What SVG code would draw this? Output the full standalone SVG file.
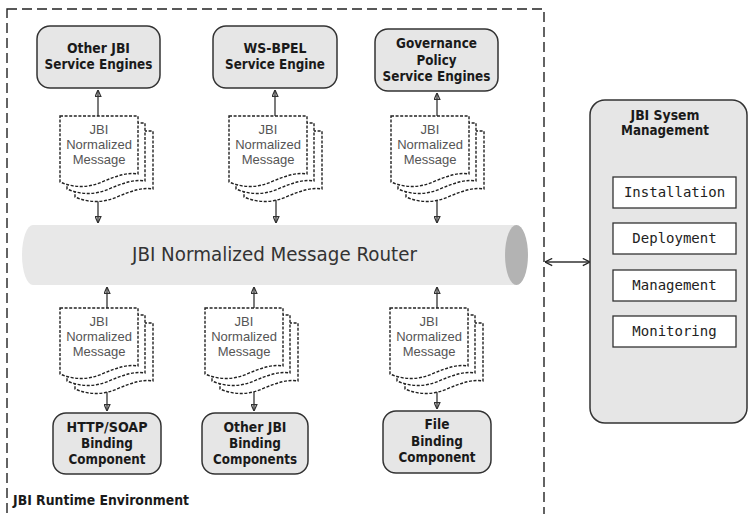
<svg xmlns="http://www.w3.org/2000/svg" xmlns:xlink="http://www.w3.org/1999/xlink" width="749" height="514" viewBox="0 0 749 514">
  <style>
    .frame { fill: none; stroke: #222; stroke-width: 1.4; stroke-dasharray: 10 5; }
    .box { fill: #e6e6e6; stroke: #333; stroke-width: 1.5; }
    .lbl { font-family: "DejaVu Sans", Verdana, sans-serif; font-weight: bold; font-size: 14px; fill: #1a1a1a; text-anchor: middle; }
    .msg { font-family: "Liberation Sans", Arial, sans-serif; font-size: 13px; fill: #555; text-anchor: middle; }
    .page { fill: #fff; stroke: #222; stroke-width: 1.4; stroke-dasharray: 3 1.6; }
    .conn { stroke: #333; stroke-width: 1.3; fill: none; }
    .task { fill: #fff; stroke: #333; stroke-width: 1.3; }
    .mono { font-family: "DejaVu Sans Mono", "Liberation Mono", monospace; font-size: 14px; fill: #222; text-anchor: middle; }
    .router-text { font-family: "DejaVu Sans", Verdana, sans-serif; font-size: 20px; fill: #333; text-anchor: middle; }
  </style>
  <defs>
    <marker id="tri" viewBox="0 0 10 10" refX="10" refY="5" markerWidth="7" markerHeight="7" markerUnits="userSpaceOnUse" orient="auto">
      <path d="M1,1 L10,5 L1,9 Z" fill="none" stroke="#333" stroke-width="1.8"/>
    </marker>
    <marker id="chev" viewBox="0 0 10 10" refX="10" refY="5" markerWidth="9" markerHeight="9" markerUnits="userSpaceOnUse" orient="auto-start-reverse">
      <path d="M2,1 L10,5 L2,9" fill="none" stroke="#222" stroke-width="1.4"/>
    </marker>
    <!-- one message sheet, front page top-left at 0,0 -->
    <path id="sheet" class="page" d="M0,0 H78 V58 C68,56 56,60 42,66 C28,72 14,72 0,66 Z"/>
    <!-- stack of three sheets -->
    <g id="msgStack">
      <use xlink:href="#sheet" x="15" y="15"/>
      <use xlink:href="#sheet" x="7" y="7"/>
      <use xlink:href="#sheet"/>
    </g>
  </defs>

  <rect width="749" height="514" fill="#fff"/>

  <!-- runtime environment boundary -->
  <g id="runtime-env">
    <rect class="frame" x="7" y="9" width="537" height="540"/>
    <text class="lbl" x="13" y="505" style="text-anchor:start" textLength="176" lengthAdjust="spacingAndGlyphs">JBI Runtime Environment</text>
  </g>

  <g id="connectors">
    <!-- stacks up to service engines -->
    <line class="conn" x1="98" y1="116" x2="98" y2="90" marker-end="url(#tri)"/>
    <line class="conn" x1="275" y1="116" x2="275" y2="90" marker-end="url(#tri)"/>
    <line class="conn" x1="437" y1="116" x2="437" y2="93" marker-end="url(#tri)"/>
    <!-- stacks down to router -->
    <line class="conn" x1="98" y1="196" x2="98" y2="223" marker-end="url(#tri)"/>
    <line class="conn" x1="276" y1="196" x2="276" y2="223" marker-end="url(#tri)"/>
    <line class="conn" x1="437" y1="196" x2="437" y2="223" marker-end="url(#tri)"/>
    <!-- stacks up to router -->
    <line class="conn" x1="107" y1="312" x2="107" y2="287" marker-end="url(#tri)"/>
    <line class="conn" x1="254" y1="312" x2="254" y2="287" marker-end="url(#tri)"/>
    <line class="conn" x1="437" y1="312" x2="437" y2="287" marker-end="url(#tri)"/>
    <!-- stacks down to binding components -->
    <line class="conn" x1="107" y1="385" x2="107" y2="411" marker-end="url(#tri)"/>
    <line class="conn" x1="254" y1="385" x2="254" y2="411" marker-end="url(#tri)"/>
    <line class="conn" x1="437" y1="385" x2="437" y2="409" marker-end="url(#tri)"/>
    <!-- runtime to system management -->
    <line class="conn" x1="545" y1="262" x2="590" y2="262" stroke="#222" marker-start="url(#chev)" marker-end="url(#chev)"/>
  </g>

  <!-- service engines -->
  <g id="other-se">
    <rect class="box" x="37" y="26" width="123" height="62" rx="13"/>
    <text class="lbl" x="98.5" y="53" textLength="63" lengthAdjust="spacingAndGlyphs">Other JBI</text>
    <text class="lbl" x="98.5" y="69" textLength="108" lengthAdjust="spacingAndGlyphs">Service Engines</text>
  </g>
  <g id="wsbpel-se">
    <rect class="box" x="213" y="26" width="124" height="62" rx="13"/>
    <text class="lbl" x="275" y="53" textLength="63" lengthAdjust="spacingAndGlyphs">WS-BPEL</text>
    <text class="lbl" x="275" y="69" textLength="100" lengthAdjust="spacingAndGlyphs">Service Engine</text>
  </g>
  <g id="governance-se">
    <rect class="box" x="375" y="29" width="123" height="62" rx="13"/>
    <text class="lbl" x="436.5" y="48" textLength="81" lengthAdjust="spacingAndGlyphs">Governance</text>
    <text class="lbl" x="436.5" y="65" textLength="40" lengthAdjust="spacingAndGlyphs">Policy</text>
    <text class="lbl" x="436.5" y="81" textLength="108" lengthAdjust="spacingAndGlyphs">Service Engines</text>
  </g>

  <!-- normalized message stacks, engine side -->
  <g id="msg-se-1">
    <use xlink:href="#msgStack" x="60" y="116"/>
    <text class="msg" x="99" y="134">JBI</text>
    <text class="msg" x="99" y="149">Normalized</text>
    <text class="msg" x="99" y="164">Message</text>
  </g>
  <g id="msg-se-2">
    <use xlink:href="#msgStack" x="229" y="116"/>
    <text class="msg" x="268" y="134">JBI</text>
    <text class="msg" x="268" y="149">Normalized</text>
    <text class="msg" x="268" y="164">Message</text>
  </g>
  <g id="msg-se-3">
    <use xlink:href="#msgStack" x="391" y="116"/>
    <text class="msg" x="430" y="134">JBI</text>
    <text class="msg" x="430" y="149">Normalized</text>
    <text class="msg" x="430" y="164">Message</text>
  </g>

  <!-- message router pipe -->
  <g id="router">
    <path d="M33,225 H516.5 V285 H33 A11,30 0 0 1 33,225 Z" fill="#e8e8e8"/>
    <ellipse cx="516.5" cy="255" rx="11.5" ry="30" fill="#b3b3b3"/>
    <text class="router-text" x="274.5" y="261" textLength="285" lengthAdjust="spacingAndGlyphs">JBI Normalized Message Router</text>
  </g>

  <!-- normalized message stacks, binding side -->
  <g id="msg-bc-1">
    <use xlink:href="#msgStack" x="60" y="308"/>
    <text class="msg" x="99" y="326">JBI</text>
    <text class="msg" x="99" y="341">Normalized</text>
    <text class="msg" x="99" y="356">Message</text>
  </g>
  <g id="msg-bc-2">
    <use xlink:href="#msgStack" x="205" y="308"/>
    <text class="msg" x="244" y="326">JBI</text>
    <text class="msg" x="244" y="341">Normalized</text>
    <text class="msg" x="244" y="356">Message</text>
  </g>
  <g id="msg-bc-3">
    <use xlink:href="#msgStack" x="390" y="308"/>
    <text class="msg" x="429" y="326">JBI</text>
    <text class="msg" x="429" y="341">Normalized</text>
    <text class="msg" x="429" y="356">Message</text>
  </g>

  <!-- binding components -->
  <g id="http-bc">
    <rect class="box" x="53" y="413" width="108" height="61" rx="13"/>
    <text class="lbl" x="107" y="432" textLength="81" lengthAdjust="spacingAndGlyphs">HTTP/SOAP</text>
    <text class="lbl" x="107" y="448" textLength="52" lengthAdjust="spacingAndGlyphs">Binding</text>
    <text class="lbl" x="107" y="464" textLength="77" lengthAdjust="spacingAndGlyphs">Component</text>
  </g>
  <g id="other-bc">
    <rect class="box" x="202" y="413" width="106" height="61" rx="13"/>
    <text class="lbl" x="255" y="432" textLength="63" lengthAdjust="spacingAndGlyphs">Other JBI</text>
    <text class="lbl" x="255" y="448" textLength="52" lengthAdjust="spacingAndGlyphs">Binding</text>
    <text class="lbl" x="255" y="464" textLength="84" lengthAdjust="spacingAndGlyphs">Components</text>
  </g>
  <g id="file-bc">
    <rect class="box" x="383" y="411" width="108" height="62" rx="13"/>
    <text class="lbl" x="437" y="429" textLength="25" lengthAdjust="spacingAndGlyphs">File</text>
    <text class="lbl" x="437" y="446" textLength="52" lengthAdjust="spacingAndGlyphs">Binding</text>
    <text class="lbl" x="437" y="462" textLength="77" lengthAdjust="spacingAndGlyphs">Component</text>
  </g>

  <!-- system management panel -->
  <g id="system-management">
    <rect class="box" x="590" y="100" width="157" height="323" rx="15"/>
    <text class="lbl" x="665" y="120" textLength="69" lengthAdjust="spacingAndGlyphs">JBI Sysem</text>
    <text class="lbl" x="665" y="135" textLength="88" lengthAdjust="spacingAndGlyphs">Management</text>
    <g id="installation">
      <rect class="task" x="613" y="177" width="123" height="31"/>
      <text class="mono" x="674.5" y="197">Installation</text>
    </g>
    <g id="deployment">
      <rect class="task" x="613" y="223" width="123" height="31"/>
      <text class="mono" x="674.5" y="243">Deployment</text>
    </g>
    <g id="management">
      <rect class="task" x="613" y="270" width="123" height="31"/>
      <text class="mono" x="674.5" y="290">Management</text>
    </g>
    <g id="monitoring">
      <rect class="task" x="613" y="316" width="123" height="31"/>
      <text class="mono" x="674.5" y="336">Monitoring</text>
    </g>
  </g>
</svg>
